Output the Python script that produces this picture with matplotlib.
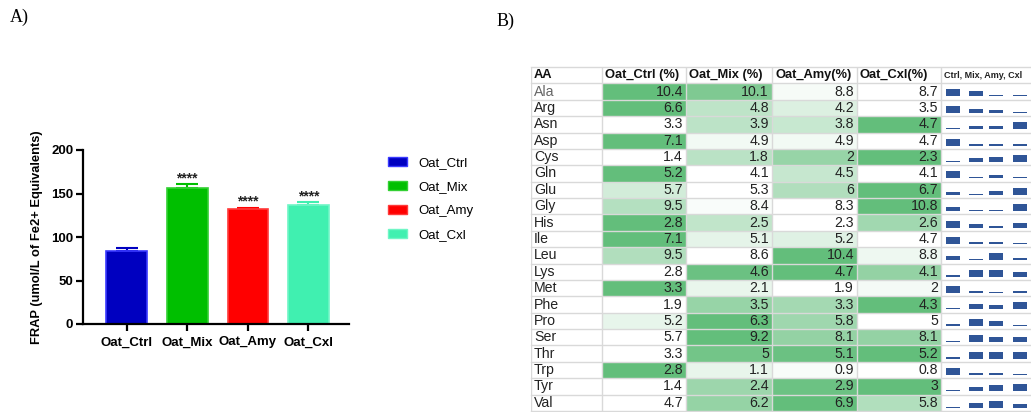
import numpy as np
import matplotlib
matplotlib.use("Agg")
import matplotlib.pyplot as plt
from matplotlib.colors import LinearSegmentedColormap
from matplotlib.patches import Patch

plt.rcParams['font.family'] = ['Liberation Sans', 'DejaVu Sans']

# ---------------- data: panel A ----------------
groups = ["Oat_Ctrl", "Oat_Mix", "Oat_Amy", "Oat_Cxl"]
frap = [84, 156, 132, 137]
frap_err = [3.5, 4.5, 1.5, 3]
signif = ["", "****", "****", "****"]
bar_colors = ["#0000c0", "#00bf00", "#ff0000", "#40f0b0"]
edge_colors = ["#3a3aff", "#33d033", "#ff3a3a", "#70f6c6"]

# ---------------- data: panel B ----------------
amino = ["Ala", "Arg", "Asn", "Asp", "Cys", "Gln", "Glu", "Gly", "His", "Ile",
         "Leu", "Lys", "Met", "Phe", "Pro", "Ser", "Thr", "Trp", "Tyr", "Val"]
ctrl = [10.4, 6.6, 3.3, 7.1, 1.4, 5.2, 5.7, 9.5, 2.8, 7.1, 9.5, 2.8, 3.3, 1.9, 5.2, 5.7, 3.3, 2.8, 1.4, 4.7]
mix = [10.1, 4.8, 3.9, 4.9, 1.8, 4.1, 5.3, 8.4, 2.5, 5.1, 8.6, 4.6, 2.1, 3.5, 6.3, 9.2, 5, 1.1, 2.4, 6.2]
amy = [8.8, 4.2, 3.8, 4.9, 2, 4.5, 6, 8.3, 2.3, 5.2, 10.4, 4.7, 1.9, 3.3, 5.8, 8.1, 5.1, 0.9, 2.9, 6.9]
cxl = [8.7, 3.5, 4.7, 4.7, 2.3, 4.1, 6.7, 10.8, 2.6, 4.7, 8.8, 4.1, 2, 4.3, 5, 8.1, 5.2, 0.8, 3, 5.8]
headers = ["AA", "Oat_Ctrl (%)", "Oat_Mix (%)", "Oat_Amy(%)", "Oat_Cxl(%)", "Ctrl, Mix, Amy, Cxl"]

W, H = 1031, 412
fig = plt.figure(figsize=(W / 100, H / 100), dpi=100)

def fbox(x0, y0, x1, y1):
    # pixel box -> figure fraction [left, bottom, width, height]
    return [x0 / W, 1 - y1 / H, (x1 - x0) / W, (y1 - y0) / H]

# ================= panel A =================
ax = fig.add_axes(fbox(83, 150, 349, 324))
x = np.arange(len(groups))
ax.bar(x, frap, width=0.67, color=bar_colors, edgecolor=edge_colors, linewidth=1.2, zorder=2)
for i in range(len(groups)):
    ax.errorbar(x[i], frap[i], yerr=[[0], [frap_err[i]]], color=bar_colors[i],
                capsize=8, capthick=1.5, elinewidth=1.5, zorder=1)
    if signif[i]:
        ax.text(x[i], frap[i] + frap_err[i] - 1, signif[i], ha="center", va="bottom",
                fontsize=10, fontweight="bold", color="#222222")
ax.set_xlim(-0.72, 3.67)
ax.set_ylim(0, 200)
ax.set_yticks([0, 50, 100, 150, 200])
ax.set_xticks(x)
ax.set_xticklabels(groups)
for s in ["top", "right"]:
    ax.spines[s].set_visible(False)
for s in ["left", "bottom"]:
    ax.spines[s].set_linewidth(1.6)
ax.tick_params(axis="both", length=5, width=1.6, labelsize=9.5, pad=2)
ax.tick_params(axis="x", pad=4)
for lab in ax.get_xticklabels() + ax.get_yticklabels():
    lab.set_fontweight("bold")
ax.set_ylabel("FRAP (umol/L of Fe2+ Equivalents)", fontsize=9.3, fontweight="bold", labelpad=6)

handles = [Patch(facecolor=c, edgecolor=e) for c, e in zip(bar_colors, edge_colors)]
fig.legend(handles, groups, loc="upper left", bbox_to_anchor=(376 / W, 1 - 145 / H),
           frameon=False, fontsize=9.5, handlelength=1.45, handleheight=0.7,
           labelspacing=0.9, handletextpad=0.85)

fig.text(10 / W, 1 - 17 / H, "A)", family="Liberation Serif", fontsize=13, va="center")
fig.text(497 / W, 1 - 21 / H, "B)", family="Liberation Serif", fontsize=13, va="center")

# ================= panel B =================
tx = fig.add_axes(fbox(531, 67, 1031, 411))
col_edges = [531, 602, 686, 772, 857, 941, 1045]
nrows = len(amino) + 1
tx.set_xlim(531, 1031)
tx.set_ylim(nrows, 0)
tx.axis("off")

vals = np.array([ctrl, mix, amy, cxl]).T
rmin = vals.min(axis=1, keepdims=True)
rmax = vals.max(axis=1, keepdims=True)
norm = (vals - rmin) / (rmax - rmin)

cmap = LinearSegmentedColormap.from_list("xl_green", ["#ffffff", "#63be7b"])
tx.pcolormesh(col_edges[1:6], np.arange(1, nrows + 1), norm, cmap=cmap, vmin=0, vmax=1, zorder=1)

# grid
for r in range(nrows + 1):
    tx.plot([col_edges[0], col_edges[-1]], [r, r], color="#d9d9d9", lw=1, zorder=2, clip_on=False)
for c in col_edges[:-1]:
    tx.plot([c, c], [0, nrows], color="#d9d9d9", lw=1, zorder=2)

# header
for j, h in enumerate(headers):
    if j == 5:
        tx.text(col_edges[j] + 3, 0.5, h, fontsize=6.5, fontweight="bold", va="center", ha="left", color="#222222")
    else:
        tx.text(col_edges[j] + 3, 0.5, h, fontsize=9.3, fontweight="bold", va="center", ha="left", color="#111111")

# body
for i, aa in enumerate(amino):
    r = i + 1.5
    tx.text(col_edges[0] + 3, r, aa, fontsize=10.2, va="center", ha="left",
            color="#666666" if aa == "Ala" else "#222222")
    for j in range(4):
        v = vals[i, j]
        txt = "%g" % v
        tx.text(col_edges[j + 2] - 3, r, txt, fontsize=10.2, va="center", ha="right", color="#222222", zorder=3)

# sparklines
spark_x = [953, 975.5, 996, 1019.5]
row_px = 344 / nrows
for i in range(len(amino)):
    thick = (1.2 + 5.8 * norm[i]) / row_px
    tx.bar(spark_x, -thick, bottom=i + 1.8, width=14, color="#2f5597", zorder=3)

fig.savefig("out.png", dpi=100)
